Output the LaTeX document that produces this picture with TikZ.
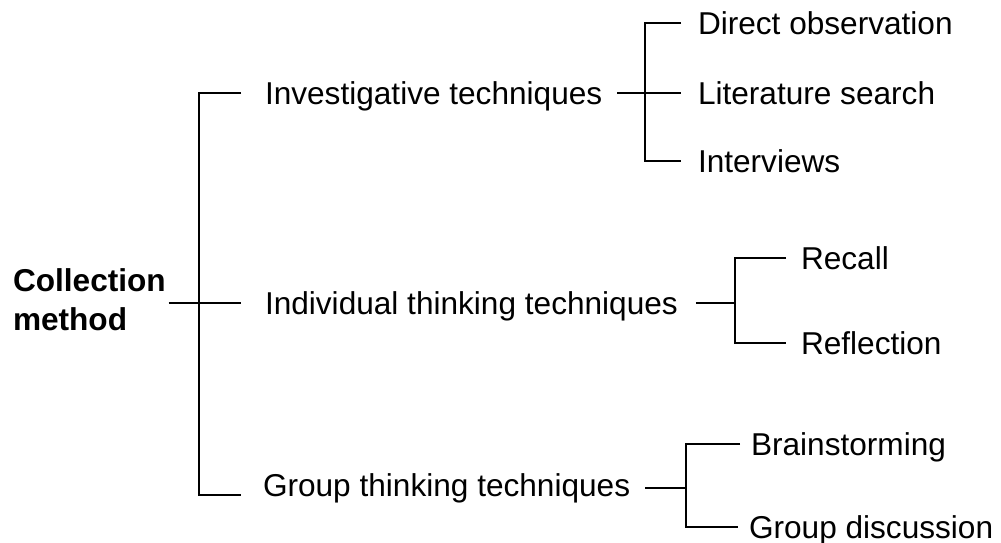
\documentclass[tikz,border=0pt]{standalone}
\usepackage{fontspec}
\setmainfont{Liberation Sans}

\begin{document}
\begin{tikzpicture}[x=0.5pt,y=-0.5pt,line width=1pt,
   every node/.style={inner sep=0pt,text depth=0pt,
     font=\fontsize{15.8}{19.5}\selectfont},
   item/.style={anchor=base west}]
\useasboundingbox (0,0) rectangle (1001,542);

% labels
\node[anchor=west,align=left,font=\fontsize{15.8}{19.5}\selectfont\bfseries]
   (root) at (12,300) {Collection\\method};
\node[item] (inv) at (264,104) {Investigative techniques};
\node[item] (ind) at (264,314) {Individual thinking techniques};
\node[item] (grp) at (262,496) {Group thinking techniques};
\node[item] (dir) at (697,34) {Direct observation};
\node[item] (lit) at (697,104) {Literature search};
\node[item] (itv) at (697,172) {Interviews};
\node[item] (rec) at (800,269) {Recall};
\node[item] (rfl) at (800,354) {Reflection};
\node[item] (brn) at (750,455) {Brainstorming};
\node[item] (gdi) at (748,538) {Group discussion};

% forks
\coordinate (f0) at (199,303);
\coordinate (f0b) at (199,495);
\coordinate (f1) at (645,93);
\coordinate (f2) at (735,302);
\coordinate (f3) at (686,488);

\draw (root.east |- ind.west) ++(2,0) -- ([xshift=-11.5pt]ind.west);
\draw ([xshift=-11.5pt]inv.west) -| (f0b) -- ([xshift=-10.5pt]grp.west |- f0b);

\draw ([xshift=7pt]inv.east) -- ([xshift=-8pt]lit.west);
\draw ([xshift=-8pt]dir.west) -| (f1) |- ([xshift=-8pt]itv.west);

\draw ([xshift=8.5pt]ind.east) -- (f2 |- ind.east);
\draw ([xshift=-7pt]rec.west) -| (f2) |- ([xshift=-7pt]rfl.west);

\draw ([xshift=7pt]grp.east |- f3) -- (f3);
\draw ([xshift=-5pt]brn.west) -| (f3) |- ([xshift=-5pt]gdi.west);
\end{tikzpicture}
\end{document}
